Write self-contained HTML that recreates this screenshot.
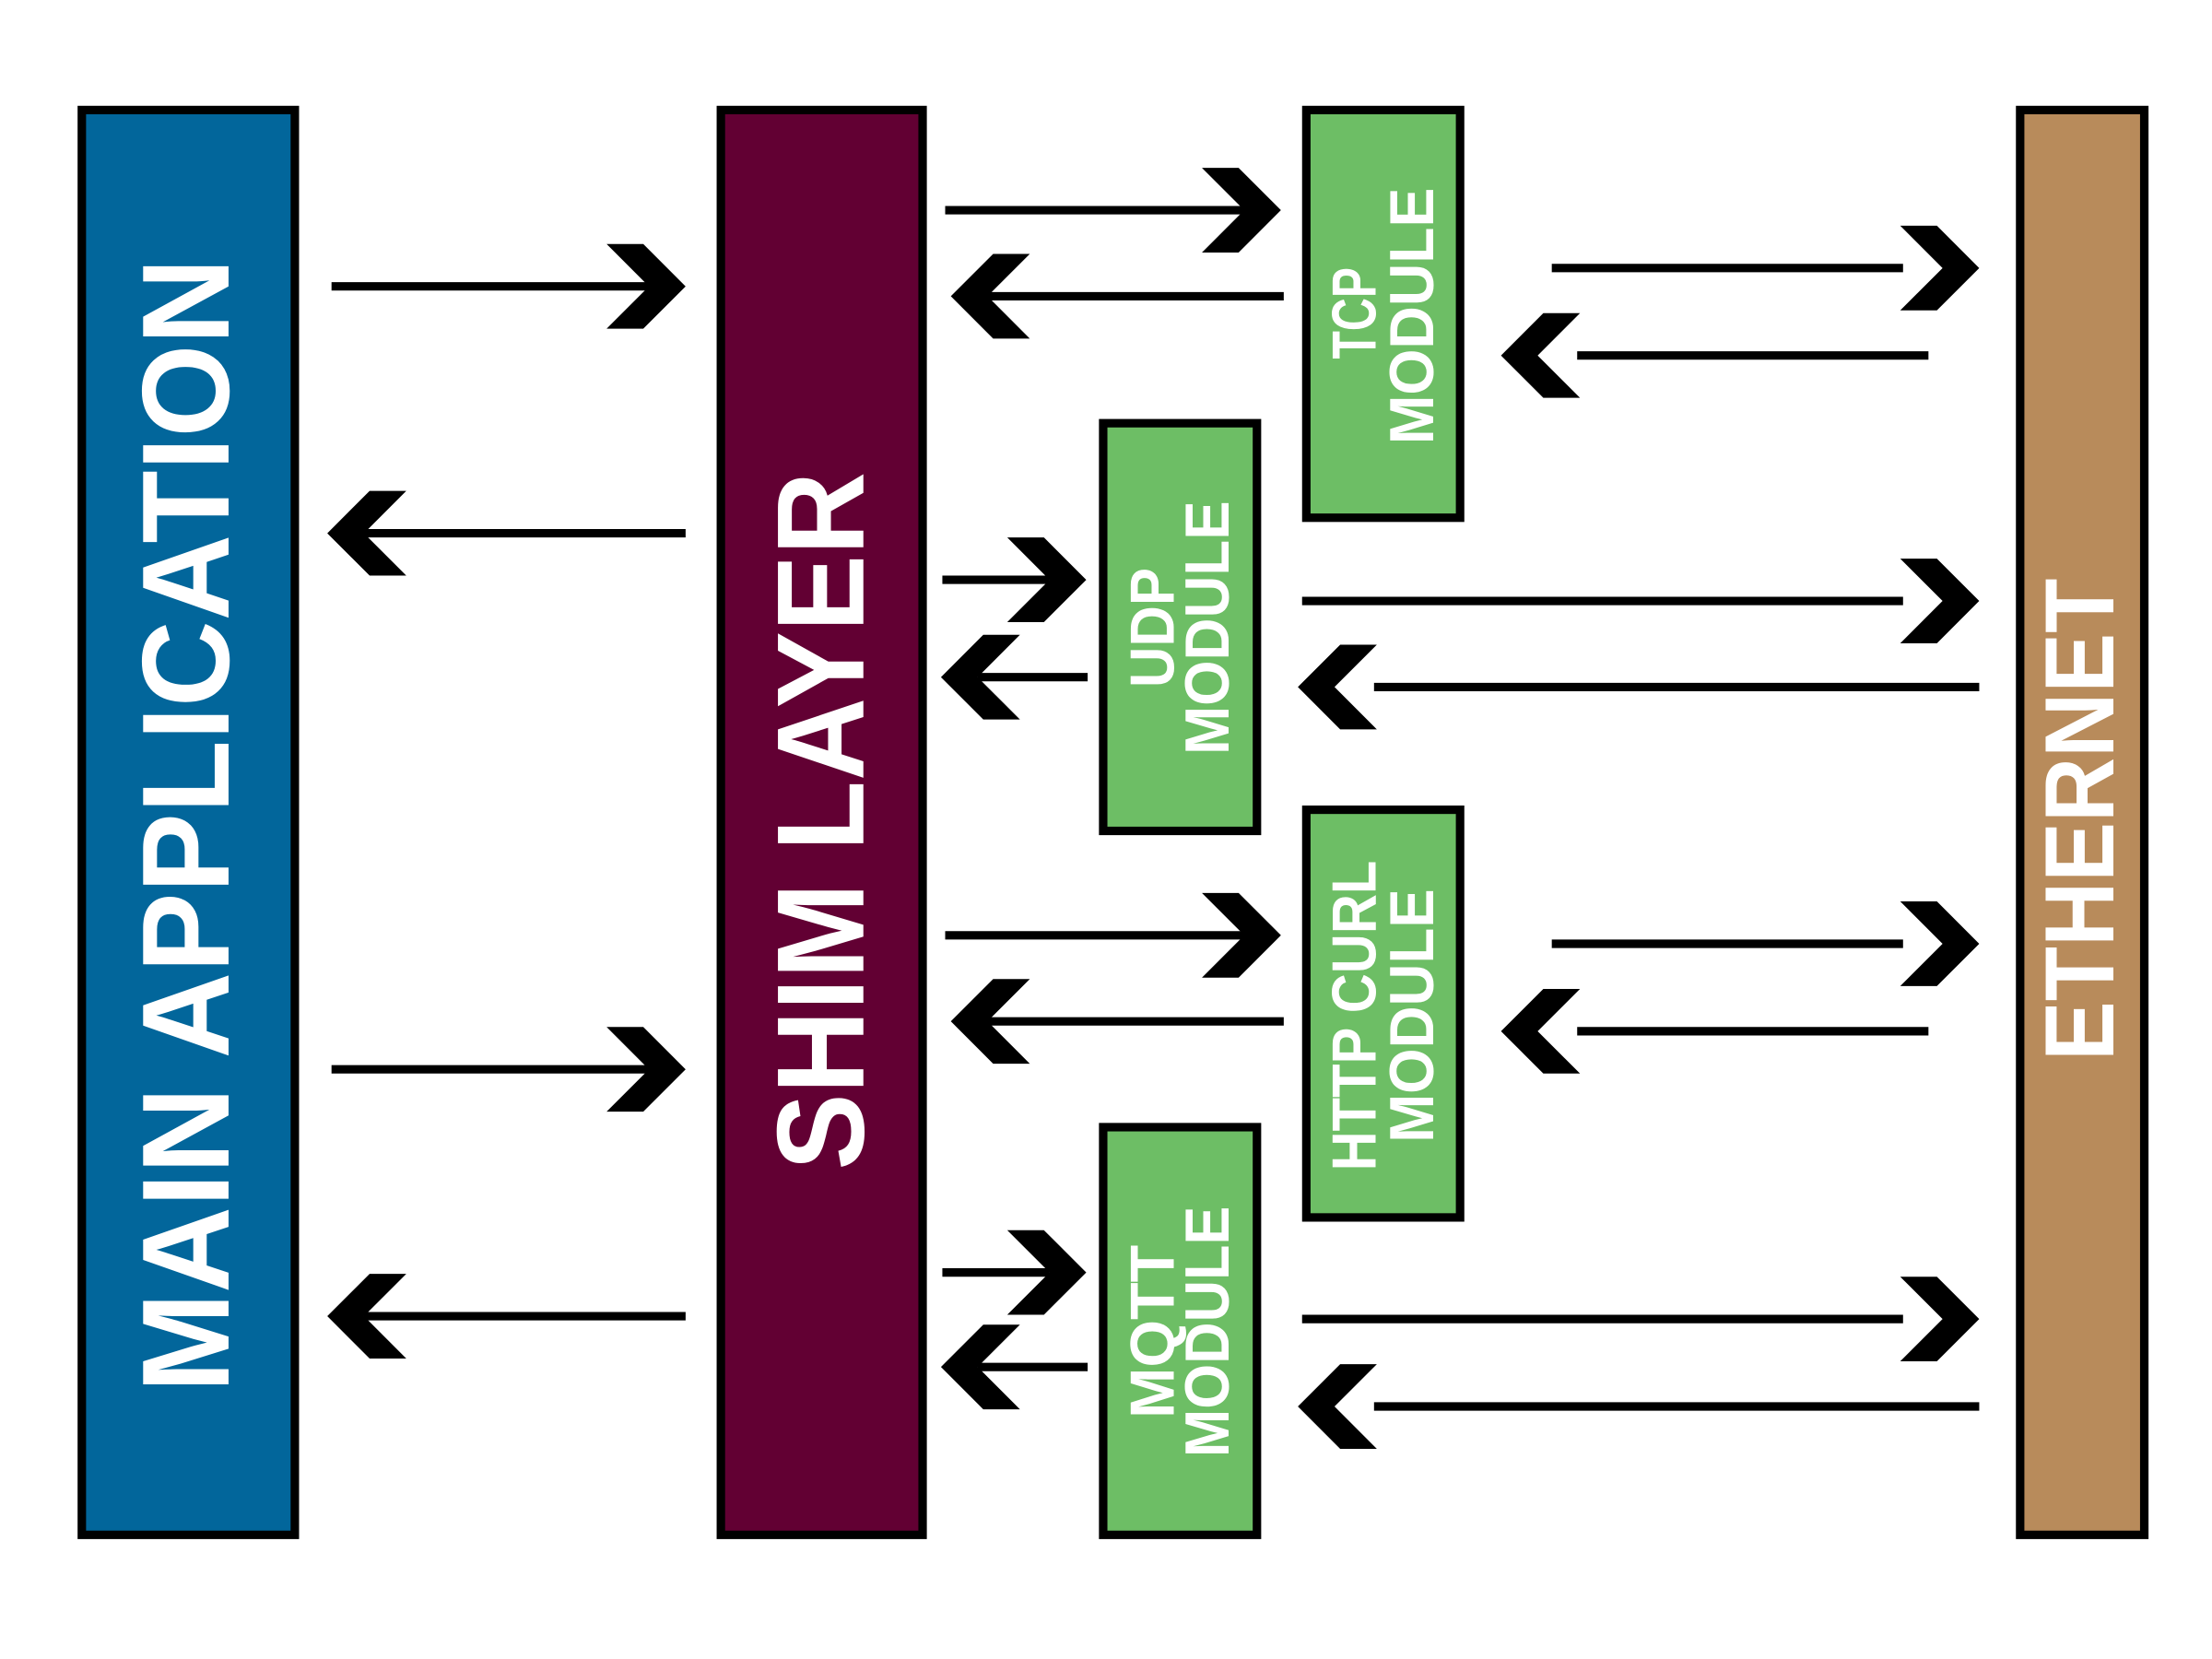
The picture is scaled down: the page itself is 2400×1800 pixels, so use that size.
<!DOCTYPE html>
<html><head><meta charset="utf-8"><style>html,body{margin:0;padding:0;background:#fff}svg{display:block}</style></head>
<body>
<svg width="2400" height="1800" viewBox="0 0 1568 1176" xmlns="http://www.w3.org/2000/svg">
<rect width="1568" height="1176" fill="#fff"/>
<g stroke="#000" stroke-width="6">
<rect x="58" y="78" width="151" height="1010" fill="#02669b"/>
<rect x="511" y="78" width="143" height="1010" fill="#620033"/>
<rect x="926" y="78" width="109" height="289" fill="#6dbe65"/>
<rect x="782" y="300" width="109" height="289" fill="#6dbe65"/>
<rect x="926" y="574" width="109" height="289" fill="#6dbe65"/>
<rect x="782" y="799" width="109" height="289" fill="#6dbe65"/>
<rect x="1432" y="78" width="88" height="1010" fill="#b88b5b"/>
</g>
<g fill="#fff" font-family="Liberation Sans, sans-serif" font-weight="bold" text-anchor="middle">
<text transform="translate(162,585) rotate(-90)" font-size="88" textLength="804" lengthAdjust="spacingAndGlyphs">MAIN APPLICATION</text>
<text transform="translate(612,582) rotate(-90)" font-size="88" textLength="495" lengthAdjust="spacingAndGlyphs">SHIM LAYER</text>
<text transform="translate(1498,581) rotate(-90)" font-size="70" textLength="342" lengthAdjust="spacingAndGlyphs">ETHERNET</text>
<g font-size="44">
<text transform="translate(975,222) rotate(-90)" textLength="65" lengthAdjust="spacingAndGlyphs">TCP</text>
<text transform="translate(1016,224) rotate(-90)" textLength="182" lengthAdjust="spacingAndGlyphs">MODULE</text>
<text transform="translate(832,445) rotate(-90)" textLength="85" lengthAdjust="spacingAndGlyphs">UDP</text>
<text transform="translate(871,445) rotate(-90)" textLength="180" lengthAdjust="spacingAndGlyphs">MODULE</text>
<text transform="translate(975,720) rotate(-90)" textLength="220" lengthAdjust="spacingAndGlyphs">HTTP CURL</text>
<text transform="translate(1016,720) rotate(-90)" textLength="180" lengthAdjust="spacingAndGlyphs">MODULE</text>
<text transform="translate(832,944) rotate(-90)" textLength="123" lengthAdjust="spacingAndGlyphs">MQTT</text>
<text transform="translate(871,944) rotate(-90)" textLength="178" lengthAdjust="spacingAndGlyphs">MODULE</text>
</g>
</g>
<g stroke="#000" stroke-width="6" fill="#000">
<line x1="235" y1="203" x2="460" y2="203"/><polygon stroke="none" points="430,173 456,173 486,203 456,233 430,233 460,203"/>
<line x1="235" y1="758" x2="460" y2="758"/><polygon stroke="none" points="430,728 456,728 486,758 456,788 430,788 460,758"/>
<line x1="670" y1="149" x2="882" y2="149"/><polygon stroke="none" points="852,119 878,119 908,149 878,179 852,179 882,149"/>
<line x1="670" y1="663" x2="882" y2="663"/><polygon stroke="none" points="852,633 878,633 908,663 878,693 852,693 882,663"/>
<line x1="1100" y1="190" x2="1349" y2="190"/><polygon stroke="none" points="1347,160 1373,160 1403,190 1373,220 1347,220 1377,190"/>
<line x1="1100" y1="669" x2="1349" y2="669"/><polygon stroke="none" points="1347,639 1373,639 1403,669 1373,699 1347,699 1377,669"/>
<line x1="668" y1="411" x2="744" y2="411"/><polygon stroke="none" points="714,381 740,381 770,411 740,441 714,441 744,411"/>
<line x1="668" y1="902" x2="744" y2="902"/><polygon stroke="none" points="714,872 740,872 770,902 740,932 714,932 744,902"/>
<line x1="923" y1="426" x2="1349" y2="426"/><polygon stroke="none" points="1347,396 1373,396 1403,426 1373,456 1347,456 1377,426"/>
<line x1="923" y1="935" x2="1349" y2="935"/><polygon stroke="none" points="1347,905 1373,905 1403,935 1373,965 1347,965 1377,935"/>
<line x1="258" y1="378" x2="486" y2="378"/><polygon stroke="none" points="288,348 262,348 232,378 262,408 288,408 258,378"/>
<line x1="258" y1="933" x2="486" y2="933"/><polygon stroke="none" points="288,903 262,903 232,933 262,963 288,963 258,933"/>
<line x1="700" y1="210" x2="910" y2="210"/><polygon stroke="none" points="730,180 704,180 674,210 704,240 730,240 700,210"/>
<line x1="700" y1="724" x2="910" y2="724"/><polygon stroke="none" points="730,694 704,694 674,724 704,754 730,754 700,724"/>
<line x1="1118" y1="252" x2="1367" y2="252"/><polygon stroke="none" points="1120,222 1094,222 1064,252 1094,282 1120,282 1090,252"/>
<line x1="1118" y1="731" x2="1367" y2="731"/><polygon stroke="none" points="1120,701 1094,701 1064,731 1094,761 1120,761 1090,731"/>
<line x1="693" y1="480" x2="771" y2="480"/><polygon stroke="none" points="723,450 697,450 667,480 697,510 723,510 693,480"/>
<line x1="693" y1="969" x2="771" y2="969"/><polygon stroke="none" points="723,939 697,939 667,969 697,999 723,999 693,969"/>
<line x1="974" y1="487" x2="1403" y2="487"/><polygon stroke="none" points="976,457 950,457 920,487 950,517 976,517 946,487"/>
<line x1="974" y1="997" x2="1403" y2="997"/><polygon stroke="none" points="976,967 950,967 920,997 950,1027 976,1027 946,997"/>
</g>
</svg>
</body></html>
